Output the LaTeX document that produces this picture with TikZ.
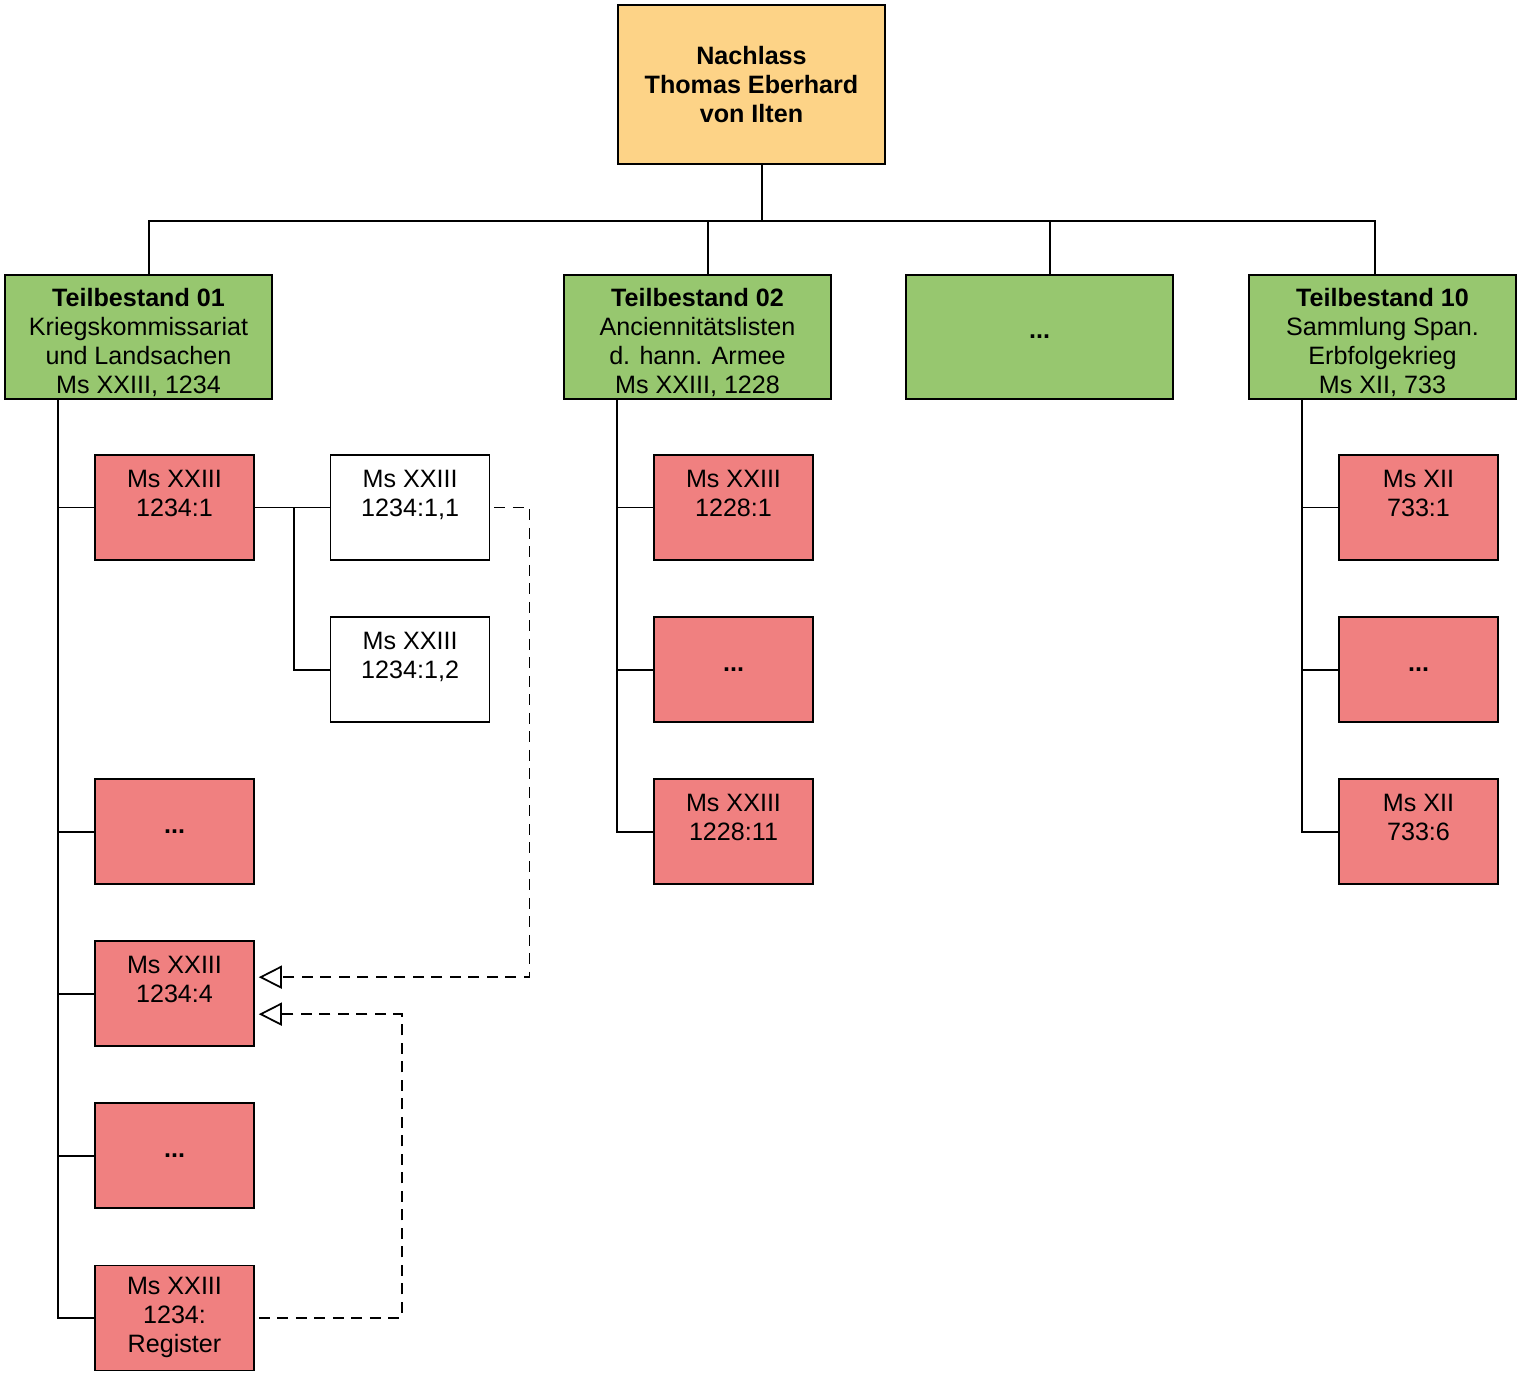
\documentclass[tikz,border=0pt]{standalone}
\usepackage{fontspec}
\setmainfont{Liberation Sans}
\usepackage{tikz}
\usetikzlibrary{arrows,arrows.meta,positioning,calc}
\definecolor{nlorange}{HTML}{FDD387}
\definecolor{tbgreen}{HTML}{97C76F}
\definecolor{msred}{HTML}{F08080}

\begin{document}
\begin{tikzpicture}[font=\fontsize{14.3}{16.5}\selectfont, node distance=1.11cm,
      line width=1.1pt,
      rootbox/.style={draw, line width=0.9pt, fill=nlorange, align=center, inner sep=0pt,
        minimum width=5.34cm, minimum height=3.18cm},
      partbox/.style={draw, line width=0.9pt, fill=tbgreen, align=center, inner sep=0pt,
        minimum width=5.34cm, minimum height=2.48cm},
      unitbox/.style={draw, line width=0.9pt, fill=msred, align=center, inner sep=0pt,
        minimum width=3.18cm, minimum height=2.1cm},
      subbox/.style={unitbox, fill=white},
      ref/.style={line width=1pt, dash pattern=on 0.22cm off 0.15cm,
        -{Triangle[open,length=0.46cm,width=0.46cm,line width=1pt]}, shorten >=0.08cm, shorten <=0.08cm}]
     \useasboundingbox (0,0) rectangle (30.48,-27.58);
     % root and Teilbestaende
     \node[rootbox] (nachlass) at (15.03,-1.69) {\textbf{Nachlass}\\\textbf{Thomas Eberhard}\\\textbf{von Ilten}};
     \node[partbox] (tb1) at (2.77,-6.74) {\rule{0pt}{0.58cm}\textbf{Teilbestand 01}\\Kriegskommissariat\\und Landsachen\\Ms XXIII, 1234};
     \node[partbox] (tb2) at (13.95,-6.74) {\rule{0pt}{0.58cm}\textbf{Teilbestand 02}\\Anciennitätslisten\\d. hann. Armee\\Ms XXIII, 1228};
     \node[partbox] (tbx) at (20.79,-6.74) {\textbf{...}};
     \node[partbox] (tb10) at (27.65,-6.74) {\rule{0pt}{0.58cm}\textbf{Teilbestand 10}\\Sammlung Span.\\Erbfolgekrieg\\Ms XII, 733};
     \coordinate (bus) at (15.24,-4.42);
     \draw ([xshift=0.21cm]nachlass.south) -- (bus);
     \foreach \t/\dx in {tb1/0.21, tb2/0.21, tbx/0.21, tb10/-0.15}
       \draw (bus) -| ([xshift=\dx cm]\t.north);

     % Teilbestand 01
     \node[unitbox] (r1a) at (3.49,-10.15) {Ms XXIII\\1234:1\\\mbox{}};
     \node[unitbox, below = 4.35cm of r1a] (r1b) {\textbf{...}};
     \node[unitbox, below = of r1b] (r1c) {Ms XXIII\\1234:4\\\mbox{}};
     \node[unitbox, below = of r1c] (r1d) {\textbf{...}};
     \node[unitbox, below = of r1d] (r1e) {Ms XXIII\\1234:\\Register};
     \node[subbox, right = 1.5cm of r1a] (w1) {Ms XXIII\\1234:1,1\\\mbox{}};
     \node[subbox, below = of w1] (w2) {Ms XXIII\\1234:1,2\\\mbox{}};
     \coordinate[left = 0.72cm of r1a.west] (trA);
     \foreach \c in {r1a,r1b,r1c,r1d,r1e}
       \draw (trA |- tb1.south) |- (\c.west);
     \draw (r1a.east) -- (w1.west);
     \coordinate[right = 0.78cm of r1a.east] (brA);
     \draw (brA) |- (w2.west);
     \draw[ref] (w1.east) -- ++(0.78,0) |- ([yshift=0.33cm]r1c.east);
     \draw[ref] (r1e.east) -- ++(2.94,0) |- ([yshift=-0.41cm]r1c.east);

     % Teilbestand 02
     \node[unitbox] (r2a) at (14.67,-10.15) {Ms XXIII\\1228:1\\\mbox{}};
     \node[unitbox, below = of r2a] (r2b) {\textbf{...}};
     \node[unitbox, below = of r2b] (r2c) {Ms XXIII\\1228:11\\\mbox{}};
     \coordinate[left = 0.72cm of r2a.west] (trB);
     \foreach \c in {r2a,r2b,r2c}
       \draw (trB |- tb2.south) |- (\c.west);

     % Teilbestand 10
     \node[unitbox] (r10a) at (28.37,-10.15) {Ms XII\\733:1\\\mbox{}};
     \node[unitbox, below = of r10a] (r10b) {\textbf{...}};
     \node[unitbox, below = of r10b] (r10c) {Ms XII\\733:6\\\mbox{}};
     \coordinate[left = 0.72cm of r10a.west] (trC);
     \foreach \c in {r10a,r10b,r10c}
       \draw (trC |- tb10.south) |- (\c.west);
    \end{tikzpicture}
\end{document}
